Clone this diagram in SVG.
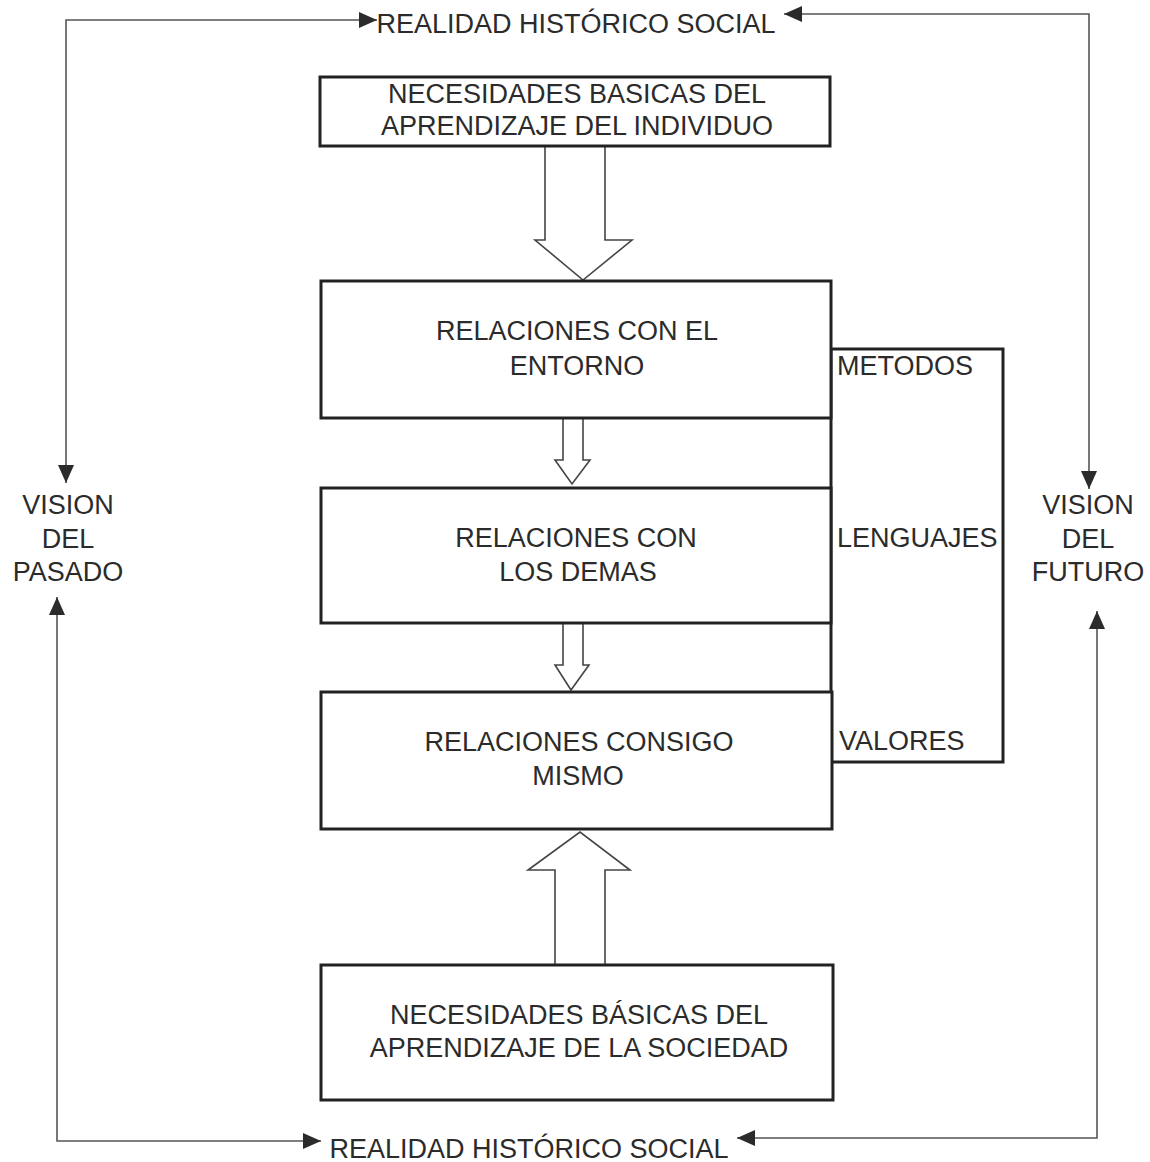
<svg xmlns="http://www.w3.org/2000/svg" width="1150" height="1162" viewBox="0 0 1150 1162">
<style>
text{font-family:"Liberation Sans",Arial,sans-serif;font-size:27px;fill:#2b2b2b}
.c{text-anchor:middle}
.box{fill:#fff;stroke:#222;stroke-width:3}
.thin{fill:none;stroke:#555;stroke-width:1.6}
.hollow{fill:#fff;stroke:#444;stroke-width:1.6;stroke-linejoin:miter}
.br{fill:none;stroke:#222;stroke-width:3}
</style>
<defs>
<marker id="ah" viewBox="0 0 18 16" refX="18" refY="8" markerWidth="18" markerHeight="16" markerUnits="userSpaceOnUse" orient="auto-start-reverse">
<path d="M0,0 L18,8 L0,16 z" fill="#2b2b2b"/>
</marker>
</defs>
<rect width="1150" height="1162" fill="#fff"/>
<g id="connectors">
<path class="thin" d="M66,483 V20 H377" marker-start="url(#ah)" marker-end="url(#ah)"/>
<path class="thin" d="M784,14 H1089 V489" marker-start="url(#ah)" marker-end="url(#ah)"/>
<path class="thin" d="M57,597 V1141 H321" marker-start="url(#ah)" marker-end="url(#ah)"/>
<path class="thin" d="M737,1138 H1097 V611" marker-start="url(#ah)" marker-end="url(#ah)"/>
<path class="hollow" d="M545,146 V240 H535 L583,280 L632,240 H605 V146"/>
<path class="hollow" d="M563,418 V460 H555 L572,484 L590,460 H583 V418"/>
<path class="hollow" d="M563,623 V665 H555 L571,690 L589,665 H583 V623"/>
<path class="hollow" d="M555,965 V870 H528 L580,832 L630,870 H605 V965"/>
</g>
<g id="realidad-top"><text class="c" x="576" y="33">REALIDAD HISTÓRICO SOCIAL</text></g>
<g id="realidad-bottom"><text class="c" x="529" y="1158">REALIDAD HISTÓRICO SOCIAL</text></g>
<g id="vision-pasado">
<text class="c" x="68" y="514">VISION</text>
<text class="c" x="68" y="548">DEL</text>
<text class="c" x="68" y="581">PASADO</text>
</g>
<g id="vision-futuro">
<text class="c" x="1088" y="514">VISION</text>
<text class="c" x="1088" y="548">DEL</text>
<text class="c" x="1088" y="581">FUTURO</text>
</g>
<g id="bracket">
<rect class="br" x="831" y="349" width="172" height="413"/>
<text x="837" y="375">METODOS</text>
<text x="837" y="547">LENGUAJES</text>
<text x="839" y="750">VALORES</text>
</g>
<g id="nba-individuo">
<rect class="box" x="320" y="77" width="510" height="69"/>
<text class="c" x="577" y="103">NECESIDADES BASICAS DEL</text>
<text class="c" x="577" y="135">APRENDIZAJE DEL INDIVIDUO</text>
</g>
<g id="rel-entorno">
<rect class="box" x="321" y="281" width="510" height="137"/>
<text class="c" x="577" y="340">RELACIONES CON EL</text>
<text class="c" x="577" y="375">ENTORNO</text>
</g>
<g id="rel-demas">
<rect class="box" x="321" y="488" width="510" height="135"/>
<text class="c" x="576" y="547">RELACIONES CON</text>
<text class="c" x="578" y="581">LOS DEMAS</text>
</g>
<g id="rel-consigo">
<rect class="box" x="321" y="692" width="511" height="137"/>
<text class="c" x="579" y="751">RELACIONES CONSIGO</text>
<text class="c" x="578" y="785">MISMO</text>
</g>
<g id="nba-sociedad">
<rect class="box" x="321" y="965" width="512" height="135"/>
<text class="c" x="579" y="1024">NECESIDADES BÁSICAS DEL</text>
<text class="c" x="579" y="1057">APRENDIZAJE DE LA SOCIEDAD</text>
</g>
</svg>
